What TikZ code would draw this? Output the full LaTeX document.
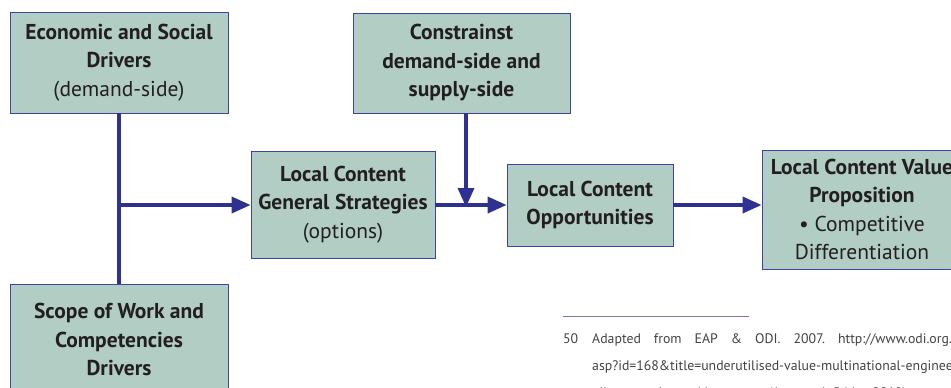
\documentclass[tikz,border=0pt]{standalone}
\usepackage{fontspec}
\setmainfont{PT Sans}
\usepackage{xcolor}
\usetikzlibrary{arrows.meta}

\definecolor{boxfill}{RGB}{177,205,196}
\definecolor{boxline}{RGB}{62,66,160}
\definecolor{flow}{RGB}{46,49,146}
\definecolor{ink}{RGB}{35,31,32}

\begin{document}
\begin{tikzpicture}[x=1pt,y=-1pt,
	driver/.style={draw=boxline,line width=0.8pt,fill=boxfill,align=center,
		text=ink,font=\fontsize{21.5}{28.5}\selectfont\bfseries,inner sep=0pt},
	flowline/.style={draw=flow,line width=3.6pt},
	flowarrow/.style={flowline,-{Triangle[length=19pt,width=16pt]}},
	note/.style={anchor=base west,inner sep=0pt,text=ink!85,font=\fontsize{13.8}{16}\selectfont}]
	\useasboundingbox (0,0) rectangle (951,388);
	
	\node[driver,minimum width=218pt,minimum height=101pt] (econ) at (119,62.5)
		{Economic and Social\\Drivers\\\mdseries (demand-side)};
	\node[driver,minimum width=217pt,minimum height=100pt] (constr) at (461.5,63)
		{Constrainst\\demand-side and\\supply-side};
	\node[driver,minimum width=184pt,minimum height=107pt] (strat) at (343,204.5)
		{Local Content\\General Strategies\\\mdseries (options)};
	\node[driver,minimum width=166pt,minimum height=82pt] (opp) at (590,205)
		{Local Content\\Opportunities};
	\node[driver,minimum width=200pt,minimum height=119pt] (value) at (862,209.5)
		{Local Content Value\\Proposition\\\mdseries \textbullet\ Competitive\\\mdseries Differentiation};
	\node[driver,minimum width=218pt,minimum height=111pt] (scope) at (119,339.5)
		{Scope of Work and\\Competencies\\Drivers};
	
	\coordinate (split) at (119,205);
	\coordinate (merge) at (466,205);
	
	\draw[flowline] (econ.south) -- (scope.north);
	\draw[flowarrow] (split) -- (split -| strat.west);
	\draw[flowarrow] (strat.east |- merge) -- (merge -| opp.west);
	\draw[flowarrow] (constr.south -| merge) -- ([yshift=-2pt]merge);
	\draw[flowarrow] (opp.east |- merge) -- (merge -| value.west);
	
	% footnote
	\draw[boxline!70,line width=0.6pt] (563,316) -- (749,316);
	\node[note] (fnum) at (563,343) {50};
	\node[note] (fl1) at (592,343) {Adapted\hspace{13pt}from\hspace{13pt}EAP\hspace{13pt}\&\hspace{13pt}ODI.\hspace{13pt}2007.\hspace{13pt}http://www.odi.org.uk/resources/details.};
	\node[note] (fl2) at (592,370) {asp?id=168\&title=underutilised-value-multinational-engineering-};
	\node[note] (fl3) at (592,397) {oil-companies-tackle-poverty (Accessed: 5 May 2010)};
\end{tikzpicture}
\end{document}
